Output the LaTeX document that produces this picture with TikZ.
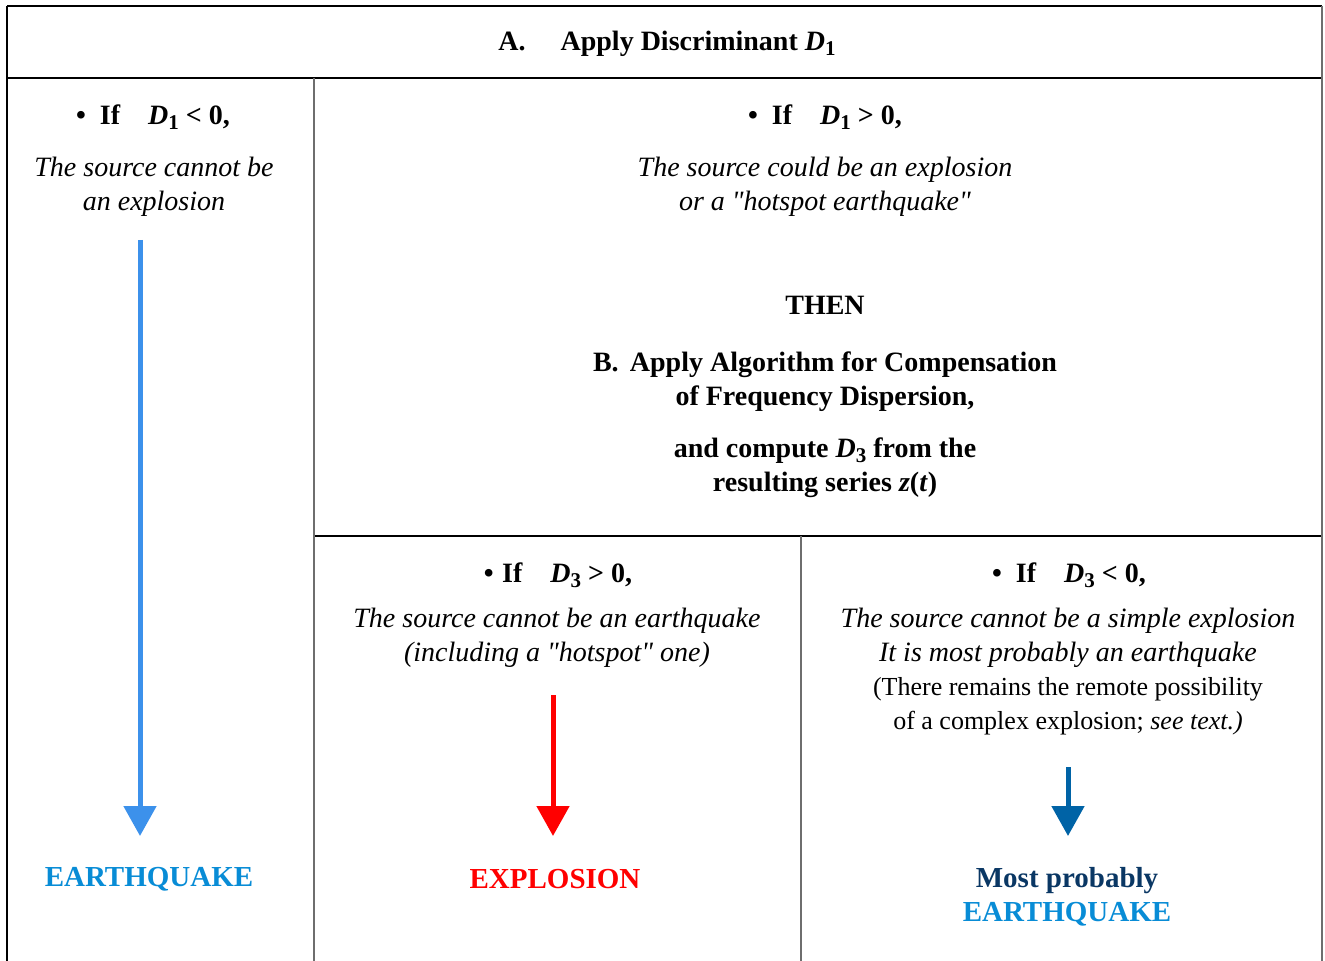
\documentclass[tikz,border=0pt]{standalone}
\usepackage{fontspec}
\setmainfont{Liberation Serif}[Ligatures=TeXOff]
\usetikzlibrary{arrows.meta}

\definecolor{quakeblue}{RGB}{8,140,214}
\definecolor{lightarrow}{RGB}{60,145,235}
\definecolor{darkarrow}{RGB}{0,99,166}
\definecolor{mpnavy}{RGB}{10,55,100}
\definecolor{framegray}{RGB}{110,110,110}

\newcommand{\Dsub}[1]{\textit{D}\raisebox{-0.35ex}{\fontsize{10.5}{12}\selectfont #1}}

\begin{document}
\begin{tikzpicture}[x=0.5pt,y=-0.5pt,
        flow/.style={line width=2.5pt, -{Triangle[length=15pt,width=16pt]}}]

        \useasboundingbox (0,0) rectangle (1325,961);

        \begin{scope}[line width=0.8pt]
          \draw (7,6) -- (1322,6);
          \draw (7,78) -- (1322,78);
          \draw (314,536) -- (1322,536);
          \draw (7,6) -- (7,961);
          \draw[framegray, line width=1pt] (314,78) -- (314,961);
          \draw[framegray, line width=1pt] (801,536) -- (801,961);
          \draw[framegray, line width=1pt] (1322,6) -- (1322,961);
        \end{scope}

        \begin{scope}[every node/.style={align=center, font=\fontsize{14}{17}\selectfont}]
          \node (a)    at (667,44)   {\textbf{A.\hspace{1.25em}Apply Discriminant \Dsub{1}}};
          \node (l1)   at (153,117)  {\textbf{\textbullet\hspace{0.5em}If\quad \Dsub{1} < 0,}};
          \node (l2)   at (154,187)  {\textit{The source cannot be}\\\textit{an explosion}};
          \node (r1)   at (825,117)  {\textbf{\textbullet\hspace{0.5em}If\quad \Dsub{1} > 0,}};
          \node (r2)   at (825,187)  {\textit{The source could be an explosion}\\\textit{or a "hotspot earthquake"}};
          \node (then) at (825,305)  {\textbf{THEN}};
          \node (b1)   at (825,382)  {\textbf{B.\hspace{0.4em}Apply Algorithm for Compensation}\\\textbf{of Frequency Dispersion,}};
          \node (b2)   at (825,468)  {\textbf{and compute \Dsub{3} from the}\\\textbf{resulting series \textit{z}(\textit{t})}};
          \node (m1)   at (558,575)  {\textbf{\textbullet\hspace{0.3em}If\quad \Dsub{3} > 0,}};
          \node (m2)   at (557,638)  {\textit{The source cannot be an earthquake}\\\textit{(including a "hotspot" one)}};
          \node (n1)   at (1069,575) {\textbf{\textbullet\hspace{0.5em}If\quad \Dsub{3} < 0,}};
          \node (n2)   at (1068,672) {\textit{The source cannot be a simple explosion}\\\textit{It is most probably an earthquake}\\{\fontsize{13}{17}\selectfont (There remains the remote possibility}\\{\fontsize{13}{17}\selectfont of a complex explosion; \textit{see text.)}}};
        \end{scope}

        \begin{scope}[every node/.style={align=center, font=\fontsize{14.5}{17}\selectfont\bfseries}]
          \node[text=quakeblue] (eq) at (149,879)  {EARTHQUAKE};
          \node[text=red]       (ex) at (555,879)  {EXPLOSION};
          \node (mp) at (1067,897) {\textcolor{mpnavy}{Most probably}\\\textcolor{quakeblue}{EARTHQUAKE}};
        \end{scope}

        \coordinate (s1) at (140,240);  \coordinate (e1) at (140,836);
        \coordinate (s2) at (553,695);  \coordinate (e2) at (553,836);
        \coordinate (s3) at (1068,767); \coordinate (e3) at (1068,836);

        \begin{scope}[every edge/.style={draw, flow}]
          \path (s1) edge[lightarrow] (e1);
          \path (s2) edge[red]        (e2);
          \path (s3) edge[darkarrow]  (e3);
        \end{scope}

      \end{tikzpicture}
\end{document}
